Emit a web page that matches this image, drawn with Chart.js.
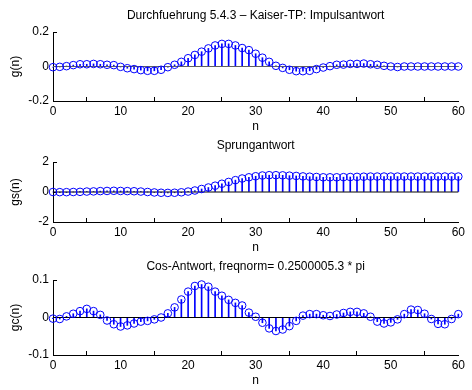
<!DOCTYPE html>
<html>
<head>
<meta charset="utf-8">
<script src="https://cdn.jsdelivr.net/npm/chart.js@4"></script>
<style>
    body { margin: 0; background: #fff; }
    #wrap { position: relative; width: 472px; height: 390px; background: #fff; overflow: hidden; }
    canvas { position: absolute; left: 0; }
</style>
</head>
<body>
<div id="wrap">
    <canvas id="c1" width="472" height="134" style="top:0px"></canvas>
    <canvas id="c2" width="472" height="125" style="top:130px"></canvas>
    <canvas id="c3" width="472" height="138" style="top:250px"></canvas>
</div>
<script>
// sample index n = 0..60
const nValues = [0, 1, 2, 3, 4, 5, 6, 7, 8, 9, 10, 11, 12, 13, 14, 15, 16, 17, 18, 19, 20,
    21, 22, 23, 24, 25, 26, 27, 28, 29, 30, 31, 32, 33, 34, 35, 36, 37, 38, 39, 40,
    41, 42, 43, 44, 45, 46, 47, 48, 49, 50, 51, 52, 53, 54, 55, 56, 57, 58, 59, 60];
const xTicks = [0, 10, 20, 30, 40, 50, 60];

// Impulsantwort g(n)
const gValues = [-0.004, -0.002, 0.002, 0.008, 0.013, 0.013, 0.015, 0.013, 0.010, 0.008,
    -0.002, -0.010, -0.015, -0.021, -0.025, -0.025, -0.019, -0.004, 0.010, 0.027,
    0.048, 0.067, 0.086, 0.105, 0.122, 0.131, 0.131, 0.122, 0.107, 0.095,
    0.074, 0.051, 0.027, 0.004, -0.008, -0.019, -0.027, -0.027, -0.025, -0.015,
    -0.006, 0.002, 0.010, 0.011, 0.015, 0.015, 0.017, 0.013, 0.010, 0.004,
    0.000, -0.003, 0.000, 0.000, 0.000, 0.000, 0.000, 0.000, 0.000, 0.000, 0.000];
const gTicks = [-0.2, 0, 0.2];

// Sprungantwort gs(n)
const gsValues = [0.00, -0.01, -0.01, 0.00, 0.01, 0.03, 0.04, 0.06, 0.07, 0.08,
    0.07, 0.06, 0.05, 0.03, 0.00, -0.03, -0.05, -0.06, -0.05, -0.02,
    0.03, 0.10, 0.20, 0.30, 0.42, 0.55, 0.67, 0.79, 0.90, 0.98,
    1.05, 1.10, 1.12, 1.12, 1.11, 1.09, 1.07, 1.04, 1.02, 1.00,
    0.98, 0.98, 0.98, 0.99, 1.00, 1.01, 1.02, 1.03, 1.03, 1.03,
    1.03, 1.03, 1.03, 1.03, 1.03, 1.03, 1.03, 1.03, 1.03, 1.03, 1.03];
const gsTicks = [-2, 0, 2];

// Cos-Antwort gc(n)
const gcValues = [-0.003, -0.004, 0.003, 0.010, 0.017, 0.023, 0.017, 0.007, -0.008, -0.018,
    -0.024, -0.021, -0.016, -0.011, -0.009, -0.005, 0.000, 0.011, 0.027, 0.048,
    0.069, 0.084, 0.088, 0.082, 0.069, 0.058, 0.047, 0.039, 0.032, 0.013,
    0.002, -0.014, -0.029, -0.036, -0.032, -0.023, -0.009, 0.005, 0.009, 0.009,
    0.006, 0.004, 0.008, 0.012, 0.015, 0.015, 0.011, 0.002, -0.011, -0.016,
    -0.013, -0.005, 0.009, 0.021, 0.020, 0.010, -0.004, -0.017, -0.018, -0.004, 0.009];
const gcTicks = [-0.1, 0, 0.1];

const FONT = "'Liberation Sans', Arial, Helvetica, sans-serif";
const FSIZE = 12;
const BLUE = '#0000ff';

function stemChart(canvasId, values, yTicks, title, yLabel, titlePad, baseColor) {
    const points = nValues.map((n, i) => ({ x: n, y: values[i] }));
    const base = [{ x: nValues[0], y: 0 }, { x: nValues[nValues.length - 1], y: 0 }];

    return new Chart(document.getElementById(canvasId), {
        type: 'scatter',
        data: {
            datasets: [
                {
                    // circle markers
                    type: 'scatter',
                    data: points,
                    pointStyle: 'circle',
                    pointRadius: 3.8,
                    pointBorderWidth: 1,
                    pointBackgroundColor: 'rgba(0,0,0,0)',
                    pointBorderColor: BLUE,
                    showLine: false,
                    clip: false,
                    order: 0
                },
                {
                    // stem baseline
                    type: 'line',
                    data: base,
                    borderColor: baseColor,
                    borderWidth: 1,
                    pointRadius: 0,
                    clip: false,
                    order: 1
                },
                {
                    // stems
                    type: 'bar',
                    data: points,
                    backgroundColor: BLUE,
                    barThickness: 1,
                    clip: false,
                    order: 2
                }
            ]
        },
        options: {
            responsive: false,
            animation: false,
            devicePixelRatio: 1,
            layout: { padding: { left: 0, right: 10, top: 0, bottom: 0 } },
            plugins: {
                legend: { display: false },
                tooltip: { enabled: false },
                title: {
                    display: true,
                    text: title,
                    fullSize: false,
                    color: '#000',
                    font: { family: FONT, size: FSIZE, weight: 'normal' },
                    padding: titlePad
                }
            },
            scales: {
                x: {
                    type: 'linear',
                    min: 0,
                    max: 60,
                    offset: false,
                    afterBuildTicks: s => { s.ticks = xTicks.map(v => ({ value: v })); },
                    afterFit: s => { s.height = 33; },
                    grid: { display: true, drawOnChartArea: false, drawTicks: true, tickLength: -4, color: '#000' },
                    border: { display: true, color: '#000' },
                    ticks: { color: '#000', padding: 7, maxRotation: 0, font: { family: FONT, size: FSIZE } },
                    title: { display: true, text: 'n', color: '#000', padding: 0, font: { family: FONT, size: FSIZE } }
                },
                y: {
                    min: yTicks[0],
                    max: yTicks[yTicks.length - 1],
                    afterBuildTicks: s => { s.ticks = yTicks.map(v => ({ value: v })); },
                    afterFit: s => { s.width = 53; },
                    grid: { display: true, drawOnChartArea: false, drawTicks: true, tickLength: -4, color: '#000' },
                    border: { display: true, color: '#000' },
                    ticks: { color: '#000', padding: 8, font: { family: FONT, size: FSIZE } },
                    title: { display: true, text: yLabel, color: '#000', padding: { top: 8.8, bottom: 0 }, font: { family: FONT, size: FSIZE } }
                }
            }
        }
    });
}

stemChart('c1', gValues, gTicks, 'Durchfuehrung 5.4.3 \u2013 Kaiser-TP: Impulsantwort', 'g(n)', { top: 8.8, bottom: 8.8 }, '#606060');
stemChart('c2', gsValues, gsTicks, 'Sprungantwort', 'gs(n)', { top: 8.8, bottom: 8.8 }, '#000');
stemChart('c3', gcValues, gcTicks, 'Cos-Antwort, freqnorm= 0.2500005.3 * pi', 'gc(n)', { top: 9.5, bottom: 6.1 }, '#000');
</script>
</body>
</html>
